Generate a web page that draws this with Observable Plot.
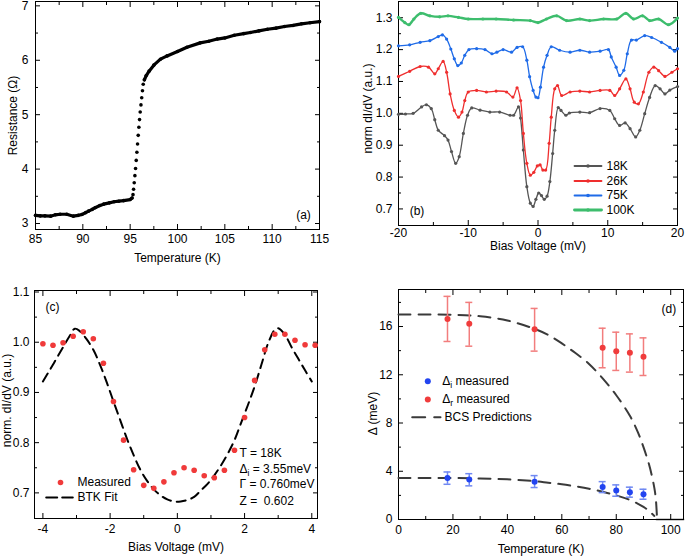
<!DOCTYPE html>
<html><head><meta charset="utf-8">
<script src="https://cdn.jsdelivr.net/npm/d3@7"></script>
<script src="https://cdn.jsdelivr.net/npm/@observablehq/plot@0.6"></script>
<style>
body{margin:0;background:#fff;}
#fig{position:relative;width:685px;height:556px;overflow:hidden;background:#fff;}
#fig > svg{position:absolute;}
</style></head><body><div id="fig"></div>
<script>
// ---------- Panel (a): resistance vs temperature ----------
const aBelowT = [85.0,85.5,86.0,86.6,87.1,87.6,88.3,89.0,89.5,89.9,90.3,90.6,91.0,91.3,91.8,92.2,92.8,93.3,93.8,94.3,95.0,95.2];
const aBelowR = [3.15,3.14,3.14,3.135,3.16,3.17,3.17,3.135,3.15,3.165,3.2,3.227,3.26,3.29,3.33,3.356,3.38,3.4,3.41,3.42,3.44,3.47];
const aTransT = [95.3,95.36,95.43,95.5,95.57,95.64,95.71,95.78,95.85,95.92,95.99,96.06,96.14,96.22,96.3,96.38];
const aTransR = [3.53,3.63,3.75,3.88,4.01,4.16,4.31,4.46,4.62,4.77,4.91,5.05,5.18,5.31,5.44,5.56];
const aAboveT = [96.5,96.7,97.0,97.5,98.2,98.9,100.0,101.0,102.4,103.3,104.2,105.0,106.0,107.0,107.7,108.6,109.5,110.4,111.3,112.2,113.1,114.0,115.0];
const aAboveR = [5.64,5.72,5.8,5.91,6.02,6.08,6.16,6.24,6.32,6.35,6.39,6.41,6.46,6.49,6.51,6.54,6.57,6.59,6.62,6.64,6.67,6.69,6.71];
const aXTicks = [85,90,95,100,105,110,115], aXMinor = [87.5,92.5,97.5,102.5,107.5,112.5];
const aYTicks = [3,4,5,6,7], aYMinor = [3.5,4.5,5.5,6.5];

// ---------- Panel (b): dI/dV spectra ----------
const bLabels = ["18K","26K","75K","100K"];
const bColors = ["#555555","#ef2e2e","#1f6be8","#3dbd6d"];
const b18V = [-20,-19,-17.9,-16.7,-16.0,-15.3,-14.8,-14.3,-13.4,-12.9,-12.4,-11.8,-11.3,-10.7,-10.1,-9.5,-8.3,-6.9,-5.5,-4.0,-3.5,-2.8,-2.5,-2.1,-1.6,-1.1,-0.7,-0.3,0.1,0.5,0.9,1.3,1.7,2.1,2.4,2.9,3.3,4.0,4.5,6.0,7.4,8.9,10.3,11.0,11.7,12.5,13.2,14.0,14.6,15.3,16.0,16.8,17.5,18.2,18.9,20];
const b18 = [0.997,0.998,1.0,1.02,1.027,1.015,0.98,0.947,0.93,0.916,0.88,0.843,0.864,0.937,0.994,1.017,1.01,1.004,1.004,0.994,0.994,1.02,0.985,0.885,0.77,0.718,0.708,0.73,0.75,0.742,0.73,0.74,0.786,0.874,0.947,1.018,1.009,0.994,1.001,1.004,1.002,1.015,1.009,0.983,0.962,0.97,0.952,0.926,0.947,0.999,1.05,1.087,1.077,1.061,1.073,1.084];
const b26V = [-20,-18.4,-16.9,-15.7,-14.8,-14.3,-13.6,-13.1,-12.6,-12.0,-11.4,-10.9,-10.5,-10.0,-8.8,-7.4,-6.0,-4.5,-3.6,-3.0,-2.5,-2.1,-1.6,-1.1,-0.6,-0.1,0.3,0.7,1.1,1.6,1.9,2.4,2.8,3.4,4.6,6.0,7.4,8.9,10.3,11.0,11.7,12.6,13.2,13.8,14.4,15.1,15.9,16.6,17.3,18.2,19.2,20];
const b26 = [1.116,1.132,1.147,1.145,1.124,1.14,1.163,1.129,1.061,1.009,0.988,1.004,1.04,1.067,1.072,1.067,1.07,1.067,1.051,1.08,1.04,0.937,0.843,0.806,0.815,0.835,0.838,0.822,0.822,0.906,0.988,1.077,1.087,1.056,1.067,1.07,1.067,1.072,1.072,1.056,1.077,1.108,1.077,1.035,1.03,1.067,1.129,1.145,1.134,1.116,1.129,1.14];
const b75V = [-20,-18.4,-16.9,-15.5,-14.3,-13.7,-13.1,-12.5,-12.0,-11.5,-11.0,-10.5,-9.9,-8.8,-7.6,-6.6,-5.9,-5.0,-3.8,-3.0,-2.2,-1.6,-1.2,-0.7,-0.3,0.0,0.35,0.8,1.3,1.9,3.1,4.6,6.0,7.4,8.9,10.1,10.5,11.2,11.7,12.3,12.8,13.4,14.1,15.3,16.3,17.7,18.9,19.6,20];
const b75 = [1.212,1.215,1.223,1.228,1.241,1.246,1.233,1.202,1.171,1.15,1.158,1.182,1.2,1.203,1.2,1.187,1.192,1.2,1.192,1.207,1.209,1.167,1.115,1.072,1.051,1.049,1.082,1.145,1.182,1.209,1.198,1.192,1.198,1.192,1.195,1.2,1.177,1.145,1.119,1.135,1.187,1.23,1.23,1.244,1.238,1.223,1.207,1.195,1.203];
const b100V = [-20,-19.1,-18.5,-17.8,-16.8,-15.5,-14.1,-12.9,-11.4,-10.0,-7.9,-6.0,-3.5,-1.1,0.0,1.2,2.7,4.1,6.0,7.4,9.4,11.3,12.6,13.7,15.0,16.0,17.3,18.7,20];
const b100 = [1.301,1.285,1.278,1.296,1.314,1.306,1.303,1.306,1.301,1.296,1.296,1.296,1.293,1.291,1.285,1.296,1.306,1.291,1.296,1.291,1.296,1.296,1.314,1.296,1.306,1.291,1.296,1.278,1.299];
const bXTicks = [-20,-10,0,10,20], bXMinor = [-15,-5,5,15];
const bYTicks = [0.7,0.8,0.9,1.0,1.1,1.2,1.3], bYMinor = [0.75,0.85,0.95,1.05,1.15,1.25];

// ---------- Panel (c): measured vs BTK fit ----------
const cV = [-4.0,-3.7,-3.4,-3.1,-2.8,-2.5,-2.2,-1.9,-1.6,-1.3,-1.0,-0.7,-0.4,-0.1,0.2,0.5,0.8,1.1,1.4,1.7,2.0,2.3,2.6,2.9,3.2,3.5,3.8,4.1];
const cMeas = [0.997,0.994,0.999,1.012,1.021,1.007,0.958,0.882,0.805,0.746,0.715,0.709,0.722,0.740,0.750,0.745,0.734,0.730,0.745,0.785,0.850,0.924,0.985,1.016,1.016,1.004,0.995,0.994];
const btkV = [-4.0,-3.8,-3.6,-3.4,-3.2,-3.05,-2.9,-2.7,-2.5,-2.3,-2.1,-1.9,-1.7,-1.5,-1.3,-1.1,-0.9,-0.7,-0.5,-0.3,-0.1,0.1,0.3,0.5,0.7,0.9,1.1,1.3,1.5,1.7,1.9,2.1,2.3,2.5,2.7,2.9,3.0,3.2,3.4,3.6,3.8,4.0];
const btkG = [0.922,0.944,0.967,0.990,1.013,1.027,1.022,1.006,0.985,0.955,0.92,0.882,0.845,0.808,0.775,0.746,0.724,0.707,0.695,0.687,0.683,0.683,0.686,0.692,0.705,0.718,0.735,0.755,0.778,0.805,0.84,0.875,0.912,0.955,0.998,1.025,1.028,1.015,0.99,0.967,0.944,0.922];
const cParams = ["T = 18K","Δ_i = 3.55meV","Γ = 0.760meV","Z =  0.602"];
const cXTicks = [-4,-2,0,2,4], cXMinor = [-3,-1,1,3];
const cYTicks = [0.7,0.8,0.9,1.0,1.1], cYMinor = [0.75,0.85,0.95,1.05];

// ---------- Panel (d): gap vs temperature ----------
const dT = [18,26,50,75,80,85,90];
const dR = [16.63,16.22,15.78,14.23,13.96,13.82,13.49];
const dRHi = [18.5,18.0,17.5,15.86,15.53,15.39,15.06];
const dRLo = [14.76,14.37,13.96,12.58,12.36,12.22,11.94];
const dI = [3.45,3.31,3.14,2.70,2.40,2.26,2.10];
const dIHi = [3.94,3.80,3.64,3.14,2.87,2.68,2.51];
const dILo = [2.92,2.79,2.65,2.23,1.93,1.85,1.68];
const bcsT = [0,10,20,30,40,50,55,60,65,70,75,80,85,88,90,92,93,94,94.5,95];
const bcsR = [17.0,17.0,16.98,16.85,16.5,15.8,15.3,14.6,13.8,12.9,11.7,10.3,8.6,7.2,6.0,4.6,3.7,2.6,1.8,0];
const bcsIT = [0,10,20,30,40,50,55,60,65,70,75,80,85,88,90,92,93,94];
const bcsI = [3.45,3.45,3.44,3.4,3.33,3.18,3.05,2.92,2.75,2.55,2.3,2.0,1.62,1.3,1.05,0.72,0.5,0.3];
const tailT = [94.8,104.7], tailD = [0,0];
const dLabels = ["Δ_i measured","Δ_r measured","BCS Predictions"];
const dXTicks = [0,20,40,60,80,100], dXMinor = [10,30,50,70,90];
const dYTicks = [0,4,8,12,16], dYMinor = [2,6,10,14,18];

// ---------- helpers ----------
const FONT = '"Liberation Sans", Arial, Helvetica, sans-serif';
const zip = (xs, ys, kx = "x", ky = "y") => xs.map((v, i) => ({[kx]: v, [ky]: ys[i]}));
const hid = () => "";
function frameAxes({xMaj, xMin, yMaj, yMin, xFmt, yFmt, xPad, yPad}) {
  return [
    Plot.axisX(xMaj, {anchor: "bottom", tickSize: 0, tickPadding: xPad, tickFormat: xFmt, label: null, fontSize: 12}),
    Plot.axisY(yMaj, {anchor: "left", tickSize: 0, tickPadding: yPad, tickFormat: yFmt, label: null, fontSize: 12}),
    ...["bottom", "top"].flatMap(a => [
      Plot.axisX(xMaj, {anchor: a, tickSize: -5, tickFormat: hid, label: null}),
      Plot.axisX(xMin, {anchor: a, tickSize: -3, tickFormat: hid, label: null})]),
    ...["left", "right"].flatMap(a => [
      Plot.axisY(yMaj, {anchor: a, tickSize: -5, tickFormat: hid, label: null}),
      Plot.axisY(yMin, {anchor: a, tickSize: -3, tickFormat: hid, label: null})]),
    Plot.frame({stroke: "#000", strokeWidth: 1})
  ];
}
const segShape = {draw(ctx, l) { ctx.moveTo(0, 0); ctx.lineTo(0, -l); }};
function legendLine(dx, dy, len, opts) {
  return Plot.vector([0], {frameAnchor: "top-left", dx, dy, length: len, rotate: 90, anchor: "start", shape: segShape, ...opts});
}
// text placed relative to the frame, centred on its anchor point unless told otherwise
function label(s, frameAnchor, dx, dy, extra = {}) {
  return Plot.text([s], {frameAnchor, dx, dy, textAnchor: "middle", lineAnchor: "middle", fontSize: 12, fill: "#000", ...extra});
}
const style = {fontFamily: FONT, fontSize: "12px", color: "#000", background: "transparent", overflow: "visible"};
function subs(svg) {
  d3.select(svg).selectAll("text").each(function () {
    const s = this.textContent;
    const m = s.match(/^(.*?)_(\w)(.*)$/);
    if (!m) return;
    const el = d3.select(this);
    el.text(null);
    el.append("tspan").text(m[1]);
    el.append("tspan").attr("dy", 3).style("font-size", "8.5px").text(m[2]);
    el.append("tspan").attr("dy", -3).text(m[3]);
  });
}
function place(svg, left, top) {
  svg.style.left = left + "px"; svg.style.top = top + "px";
  subs(svg);
  document.getElementById("fig").appendChild(svg);
}
const f1 = d3.format(".1f");

// ---------- (a) ----------
const pa = Plot.plot({
  width: 342, height: 275, marginLeft: 35, marginTop: 1, marginRight: 23, marginBottom: 46,
  x: {domain: [85, 115]}, y: {domain: [2.89, 7.08]}, style,
  marks: [
    ...frameAxes({xMaj: aXTicks, xMin: aXMinor, yMaj: aYTicks, yMin: aYMinor, xFmt: d => d, yFmt: d => d, xPad: 5, yPad: 7}),
    Plot.line(zip(aBelowT, aBelowR), {x: "x", y: "y", stroke: "#000", strokeWidth: 3.2}),
    Plot.line(zip(aAboveT, aAboveR), {x: "x", y: "y", stroke: "#000", strokeWidth: 3.2}),
    Plot.dot(zip(aBelowT.concat(aTransT, aAboveT), aBelowR.concat(aTransR, aAboveR)), {x: "x", y: "y", r: 1.8, fill: "#000"}),
    label("Temperature (K)", "bottom", 0, 29),
    label("Resistance (Ω)", "left", -22, 0, {rotate: -90}),
    label("(a)", "bottom-right", -16, -14)
  ]
});
place(pa, 0, 0);

// ---------- (b) ----------
const bSeries = [zip(b18V, b18), zip(b26V, b26), zip(b75V, b75), zip(b100V, b100)];
const bWidths = [1.3, 1.3, 1.3, 2.4];
const bLegY = [164.5, 179.5, 194, 208.5];
const pb = Plot.plot({
  width: 345, height: 275, marginLeft: 58, marginTop: 1, marginRight: 8, marginBottom: 50,
  x: {domain: [-20, 20]}, y: {domain: [0.648, 1.351]}, style,
  marks: [
    ...frameAxes({xMaj: bXTicks, xMin: bXMinor, yMaj: bYTicks, yMin: bYMinor, xFmt: d => d, yFmt: f1, xPad: 3, yPad: 6}),
    ...bSeries.flatMap((s, k) => [
      Plot.line(s, {x: "x", y: "y", stroke: bColors[k], strokeWidth: bWidths[k], curve: "catmull-rom"}),
      Plot.dot(s, {x: "x", y: "y", r: 1.6, fill: bColors[k]})
    ]),
    ...bLabels.flatMap((lab, k) => [
      legendLine(176, bLegY[k], 27, {stroke: bColors[k], strokeWidth: bWidths[k] + 0.5}),
      Plot.dot([0], {frameAnchor: "top-left", dx: 189.5, dy: bLegY[k], r: 1.8, fill: bColors[k]}),
      label(lab, "top-left", 208, bLegY[k], {textAnchor: "start"})
    ]),
    label("Bias Voltage (mV)", "bottom", 0, 21),
    label("norm dI/dV (a.u.)", "left", -30, -5, {rotate: -90}),
    label("(b)", "top-left", 18.5, 210)
  ]
});
place(pb, 340, 0);

// ---------- (c) ----------
const cRed = "#f03a3a";
const pc = Plot.plot({
  width: 340, height: 276, marginLeft: 34, marginTop: 10, marginRight: 23, marginBottom: 38,
  x: {domain: [-4.25, 4.17]}, y: {domain: [0.649, 1.103]}, style,
  marks: [
    ...frameAxes({xMaj: cXTicks, xMin: cXMinor, yMaj: cYTicks, yMin: cYMinor, xFmt: d => d, yFmt: f1, xPad: 6, yPad: 5}),
    Plot.line(zip(btkV, btkG), {x: "x", y: "y", stroke: "#000", strokeWidth: 2, strokeDasharray: "9,6", curve: "catmull-rom"}),
    Plot.dot(zip(cV, cMeas), {x: "x", y: "y", r: 2.8, fill: cRed}),
    Plot.dot([0], {frameAnchor: "top-left", dx: 26, dy: 192, r: 2.8, fill: cRed}),
    label("Measured", "top-left", 43, 192, {textAnchor: "start"}),
    legendLine(11.7, 207, 26.6, {stroke: "#000", strokeWidth: 2, strokeDasharray: "11,5"}),
    label("BTK Fit", "top-left", 43, 207, {textAnchor: "start"}),
    ...cParams.map((p, k) => label(p, "top-left", 205, [162.7, 178.3, 194, 210.7][k], {textAnchor: "start"})),
    label("(c)", "top-left", 18, 17),
    label("Bias Voltage (mV)", "bottom", 0, 29),
    label("norm. dI/dV (a.u.)", "left", -27, -4, {rotate: -90})
  ]
});
place(pc, 0, 280);

// ---------- (d) ----------
const rRed = "#f03c3c", rBar = "#f27d7d", iBlue = "#2244f0", iBar = "#6f88f2";
const rows = (ys, hi, lo) => dT.map((t, i) => ({x: t, y: ys[i], hi: hi[i], lo: lo[i]}));
const dRrows = rows(dR, dRHi, dRLo), dIrows = rows(dI, dIHi, dILo);
const errMarks = (data, bar, pt) => [
  Plot.ruleX(data, {x: "x", y1: "lo", y2: "hi", stroke: bar, strokeWidth: 1.5}),
  Plot.ruleY(data, {y: "hi", x1: "x", x2: "x", insetLeft: -3.5, insetRight: -3.5, stroke: bar, strokeWidth: 1.5}),
  Plot.ruleY(data, {y: "lo", x1: "x", x2: "x", insetLeft: -3.5, insetRight: -3.5, stroke: bar, strokeWidth: 1.5}),
  Plot.dot(data, {x: "x", y: "y", r: 3, fill: pt})
];
const pd = Plot.plot({
  width: 345, height: 276, marginLeft: 58, marginTop: 9, marginRight: 2, marginBottom: 37,
  x: {domain: [0, 104.7]}, y: {domain: [0, 19.07]}, style,
  marks: [
    Plot.line(zip(tailT, tailD), {x: "x", y: "y", stroke: "#9a9a9a", strokeWidth: 2}),
    ...frameAxes({xMaj: dXTicks, xMin: dXMinor, yMaj: dYTicks, yMin: dYMinor, xFmt: d => d, yFmt: d => d, xPad: 6, yPad: 6}),
    Plot.line(zip(bcsT, bcsR), {x: "x", y: "y", stroke: "#3a3a3a", strokeWidth: 2, strokeDasharray: "12,8", curve: "catmull-rom"}),
    Plot.line(zip(bcsIT, bcsI), {x: "x", y: "y", stroke: "#3a3a3a", strokeWidth: 2, strokeDasharray: "12,8", curve: "catmull-rom"}),
    ...errMarks(dRrows, rBar, rRed),
    ...errMarks(dIrows, iBar, iBlue),
    Plot.dot([0], {frameAnchor: "top-left", dx: 29.3, dy: 91.7, r: 3, fill: iBlue}),
    Plot.dot([0], {frameAnchor: "top-left", dx: 29.3, dy: 110, r: 3, fill: rRed}),
    legendLine(13.7, 127.7, 28.3, {stroke: "#3a3a3a", strokeWidth: 2, strokeDasharray: "13,9"}),
    ...dLabels.map((l, k) => label(l, "top-left", k < 2 ? 43.7 : 46, [91.7, 110, 127.7][k], {textAnchor: "start"})),
    label("(d)", "top-right", -14.7, 19.3),
    label("Temperature (K)", "bottom", 0, 30),
    label("Δ (meV)", "left", -25, 9, {rotate: -90})
  ]
});
place(pd, 340, 280);
</script></body></html>
